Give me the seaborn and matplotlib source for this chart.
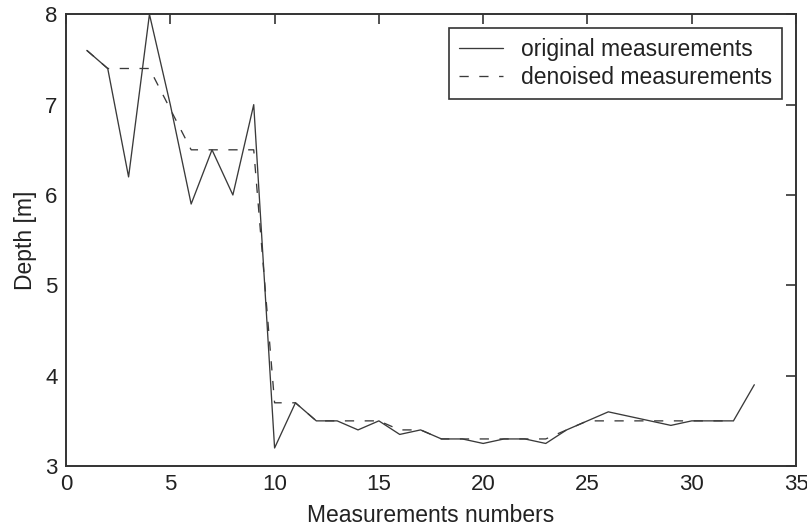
import seaborn as sns
import matplotlib.pyplot as plt
import pandas as pd

# measurement index
meas_no = list(range(1, 34))

# original depth readings
original = [7.6, 7.4, 6.2, 8.0, 7.0, 5.9, 6.5, 6.0, 7.0, 3.2,
            3.7, 3.5, 3.5, 3.4, 3.5, 3.35, 3.4, 3.3, 3.3, 3.25,
            3.3, 3.3, 3.25, 3.4, 3.5, 3.6, 3.55, 3.5, 3.45, 3.5,
            3.5, 3.5, 3.9]

# denoised depth
denoised = [7.6, 7.4, 7.4, 7.4, 6.95, 6.5, 6.5, 6.5, 6.5, 3.7,
            3.7, 3.5, 3.5, 3.5, 3.5, 3.4, 3.4, 3.3, 3.3, 3.3,
            3.3, 3.3, 3.3, 3.4, 3.5, 3.5, 3.5, 3.5, 3.5, 3.5,
            3.5, 3.5]

df = pd.concat([
    pd.DataFrame({"n": meas_no, "depth": original, "kind": "original measurements"}),
    pd.DataFrame({"n": meas_no[:len(denoised)], "depth": denoised, "kind": "denoised measurements"}),
])

sns.set_style("white")
plt.rcParams['font.family'] = ['Liberation Sans', 'DejaVu Sans']
plt.rcParams['text.color'] = '#222222'

fig = plt.figure(figsize=(8.07, 5.29), dpi=100)
ax = fig.add_axes([0.0818, 0.119, 0.9046, 0.854])

sns.lineplot(data=df, x="n", y="depth", style="kind",
             dashes={"original measurements": "", "denoised measurements": (7, 8)},
             color="#3a3a3a", linewidth=0.95, ax=ax, legend=True)

ax.set_xlim(0, 35)
ax.set_ylim(3, 8)
ax.set_xticks(range(0, 36, 5))
ax.set_yticks(range(3, 9))
ax.set_xlabel("Measurements numbers", fontsize=16.5, color="#222222", labelpad=6)
ax.set_ylabel("Depth [m]", fontsize=16.5, color="#222222", labelpad=6)
ax.tick_params(direction="in", top=True, right=True, length=7, labelsize=16,
               width=1.2, color="#333333", labelcolor="#222222", pad=6)
for s in ax.spines.values():
    s.set_color("#333333")
    s.set_linewidth(1.4)

leg = ax.legend(loc="upper right", fontsize=16.5, frameon=True, fancybox=False,
                edgecolor="#333333", framealpha=1, borderaxespad=0.6,
                handlelength=1.9, handletextpad=0.8, labelspacing=0.2,
                borderpad=0.45)
leg.get_frame().set_linewidth(1.2)

fig.savefig("out.png", dpi=100)
